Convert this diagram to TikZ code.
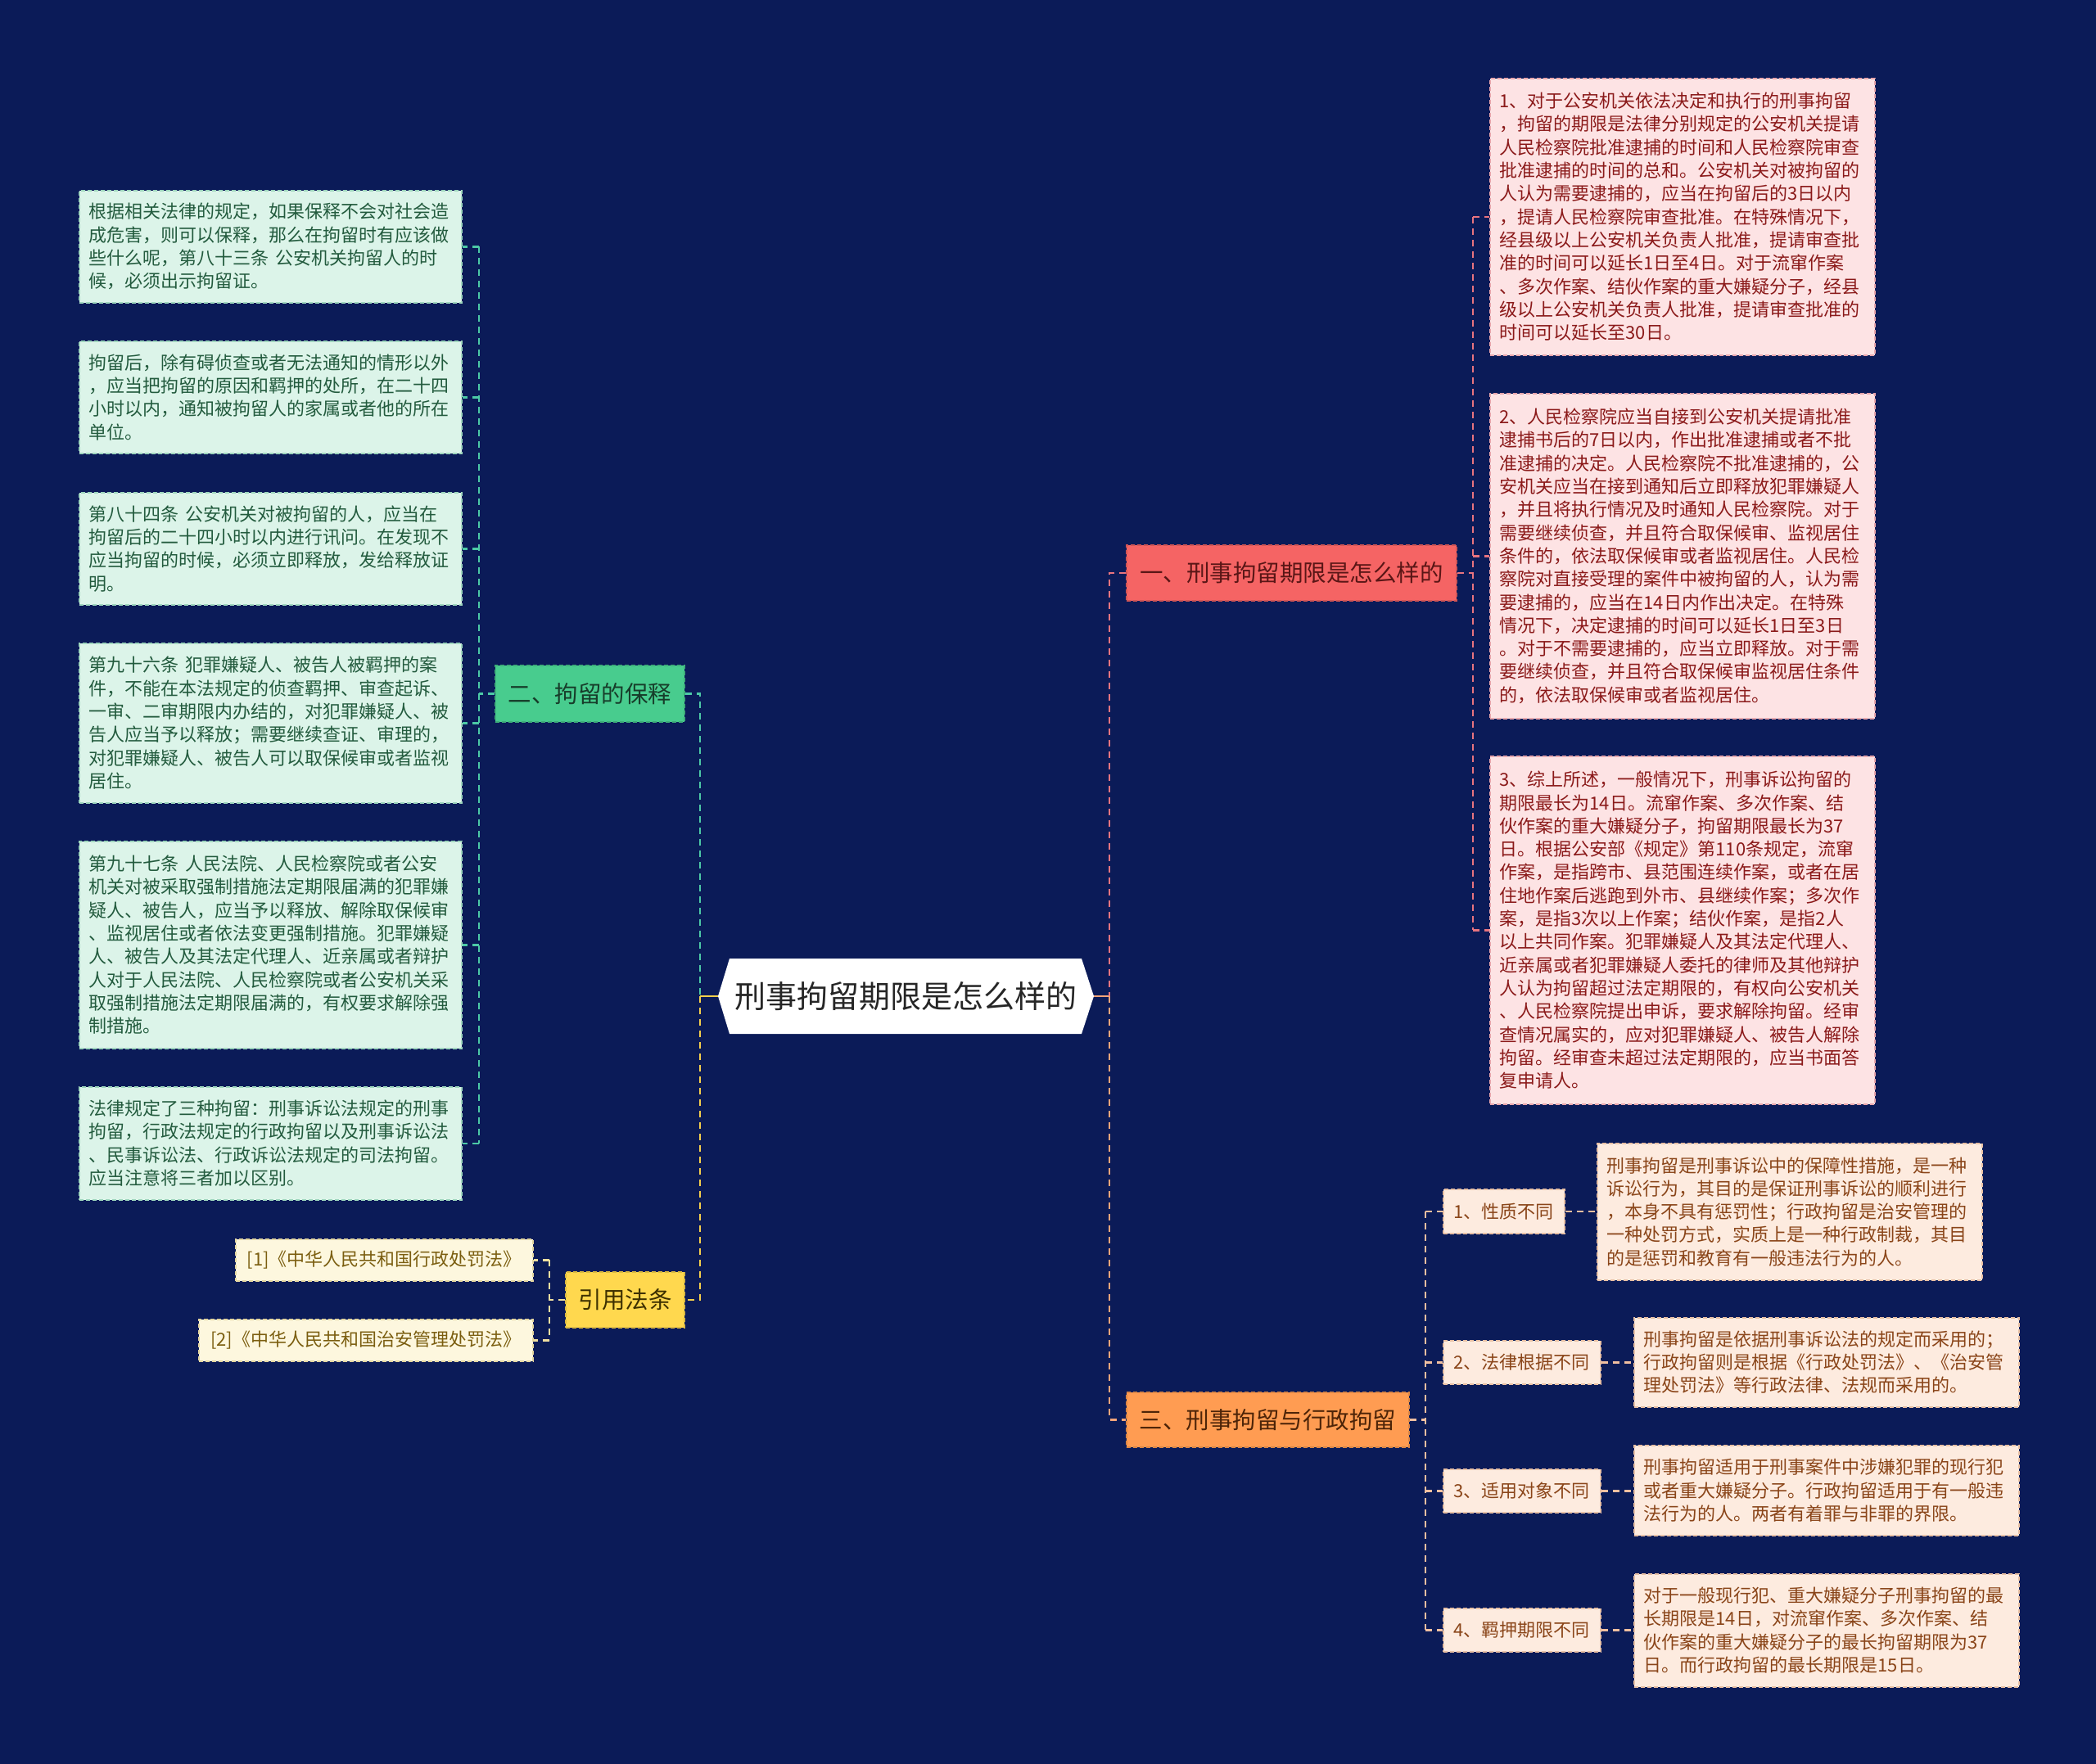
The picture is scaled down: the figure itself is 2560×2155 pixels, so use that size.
\documentclass[tikz,border=0pt]{standalone}
\usepackage{fontspec}
\setmainfont{Noto Sans CJK SC}
\usetikzlibrary{calc}
\definecolor{bgc}{HTML}{0B1B58}
\definecolor{redfill}{HTML}{F56464}
\definecolor{redtext}{HTML}{5A1616}
\definecolor{greenfill}{HTML}{48CC8E}
\definecolor{greentext}{HTML}{173D2A}
\definecolor{yelfill}{HTML}{FFD84E}
\definecolor{yeltext}{HTML}{3D3000}
\definecolor{orafill}{HTML}{FF9C52}
\definecolor{oratext}{HTML}{4D2408}
\definecolor{mint}{HTML}{DCF4E9}
\definecolor{minttext}{HTML}{235B3E}
\definecolor{mintdraw}{HTML}{9ED6BD}
\definecolor{pinkf}{HTML}{FDE3E4}
\definecolor{pinktext}{HTML}{8B1A1A}
\definecolor{pinkdraw}{HTML}{E8A6AC}
\definecolor{peach}{HTML}{FDEBDF}
\definecolor{peachtext}{HTML}{8A4519}
\definecolor{peachdraw}{HTML}{E8C0A4}
\definecolor{cream}{HTML}{FDF7DE}
\definecolor{creamtext}{HTML}{7B5E10}
\definecolor{creamdraw}{HTML}{E3D6A0}
\definecolor{lteal}{HTML}{4CC9A6}
\definecolor{lyel}{HTML}{F4D04C}
\definecolor{lred}{HTML}{E8747F}
\definecolor{lora}{HTML}{F3A57A}
\definecolor{lpeach}{HTML}{F0BFA0}
\definecolor{lcream}{HTML}{EFDFA0}
\definecolor{roottext}{HTML}{262626}
\tikzset{
  conn/.style={line width=2.5pt, dash pattern=on 8pt off 6pt},
  leafbox/.style={rectangle, anchor=north west, inner xsep=12pt, inner ysep=3pt,
    align=left, line width=1.5pt, dash pattern=on 5pt off 3pt,
    font=\fontsize{22}{28.3}\selectfont},
  gleaf/.style={leafbox, fill=mint, draw=mintdraw, text=minttext, text width=443pt, minimum width=467pt},
  pleaf/.style={leafbox, fill=pinkf, draw=pinkdraw, text=pinktext, text width=446pt, minimum width=470pt},
  oleaf/.style={leafbox, fill=peach, draw=peachdraw, text=peachtext, text width=446pt, minimum width=470pt},
  smallbox/.style={rectangle, anchor=north west, inner sep=0pt, line width=1.5pt,
    dash pattern=on 5pt off 3pt, font=\fontsize{22}{26}\selectfont,
    fill=peach, draw=peachdraw, text=peachtext},
  citebox/.style={rectangle, anchor=north west, inner sep=0pt, line width=1.5pt,
    dash pattern=on 5pt off 3pt, font=\fontsize{22}{26}\selectfont,
    fill=cream, draw=creamdraw, text=creamtext},
  mainnode/.style={rectangle, inner sep=0pt, line width=1.5pt,
    dash pattern=on 5pt off 3pt, font=\fontsize{28.5}{34}\selectfont}
}
\begin{document}
\begin{tikzpicture}[x=1pt,y=-1pt]
\useasboundingbox (0,0) rectangle (2560,2155);
\fill[bgc] (0,0) rectangle (2560,2155);

% root hexagon
\fill[white] (891,1171) -- (1321,1171) -- (1336,1217) -- (1321,1263) -- (891,1263) -- (877,1217) -- cycle;
\node[font=\fontsize{38}{44}\selectfont, text=roottext, minimum width=459pt, minimum height=92pt, inner sep=0pt] (root) at (1106.5,1217) {刑事拘留期限是怎么样的};

% main branches
\node[mainnode, fill=redfill, draw=redfill!85!black, text=redtext, minimum width=403pt, minimum height=68pt] (n1) at (1577.5,700) {一、刑事拘留期限是怎么样的};
\node[mainnode, fill=greenfill, draw=greenfill!85!black, text=greentext, minimum width=231pt, minimum height=69pt] (n2) at (720.5,847.5) {二、拘留的保释};
\node[mainnode, fill=yelfill, draw=yelfill!85!black, text=yeltext, minimum width=145pt, minimum height=68pt] (n4) at (763.5,1588) {引用法条};
\node[mainnode, fill=orafill, draw=orafill!85!black, text=oratext, minimum width=345pt, minimum height=67pt] (n3) at (1548.5,1734.5) {三、刑事拘留与行政拘留};

% left leaves
\node[gleaf, minimum height=137pt] (g1) at (96,232) {根据相关法律的规定，如果保释不会对社会造\\成危害，则可以保释，那么在拘留时有应该做\\些什么呢，第八十三条 公安机关拘留人的时\\候，必须出示拘留证。};
\node[gleaf, minimum height=137pt] (g2) at (96,416) {拘留后，除有碍侦查或者无法通知的情形以外\\，应当把拘留的原因和羁押的处所，在二十四\\小时以内，通知被拘留人的家属或者他的所在\\单位。};
\node[gleaf, minimum height=137pt] (g3) at (96,601) {第八十四条 公安机关对被拘留的人，应当在\\拘留后的二十四小时以内进行讯问。在发现不\\应当拘留的时候，必须立即释放，发给释放证\\明。};
\node[gleaf, minimum height=195pt] (g4) at (96,785) {第九十六条 犯罪嫌疑人、被告人被羁押的案\\件，不能在本法规定的侦查羁押、审查起诉、\\一审、二审期限内办结的，对犯罪嫌疑人、被\\告人应当予以释放；需要继续查证、审理的，\\对犯罪嫌疑人、被告人可以取保候审或者监视\\居住。};
\node[gleaf, minimum height=253pt] (g5) at (96,1027) {第九十七条 人民法院、人民检察院或者公安\\机关对被采取强制措施法定期限届满的犯罪嫌\\疑人、被告人，应当予以释放、解除取保候审\\、监视居住或者依法变更强制措施。犯罪嫌疑\\人、被告人及其法定代理人、近亲属或者辩护\\人对于人民法院、人民检察院或者公安机关采\\取强制措施法定期限届满的，有权要求解除强\\制措施。};
\node[gleaf, minimum height=138pt] (g6) at (96,1327) {法律规定了三种拘留：刑事诉讼法规定的刑事\\拘留，行政法规定的行政拘留以及刑事诉讼法\\、民事诉讼法、行政诉讼法规定的司法拘留。\\应当注意将三者加以区别。};

% citations
\node[citebox, minimum width=363pt, minimum height=51pt] (c1) at (287,1513) {[1]《中华人民共和国行政处罚法》};
\node[citebox, minimum width=408pt, minimum height=51pt] (c2) at (242,1611) {[2]《中华人民共和国治安管理处罚法》};

% right pink leaves
\node[pleaf, minimum height=338pt] (r1) at (1819,95) {1、对于公安机关依法决定和执行的刑事拘留\\，拘留的期限是法律分别规定的公安机关提请\\人民检察院批准逮捕的时间和人民检察院审查\\批准逮捕的时间的总和。公安机关对被拘留的\\人认为需要逮捕的，应当在拘留后的3日以内\\，提请人民检察院审查批准。在特殊情况下，\\经县级以上公安机关负责人批准，提请审查批\\准的时间可以延长1日至4日。对于流窜作案\\、多次作案、结伙作案的重大嫌疑分子，经县\\级以上公安机关负责人批准，提请审查批准的\\时间可以延长至30日。};
\node[pleaf, minimum height=397pt] (r2) at (1819,480) {2、人民检察院应当自接到公安机关提请批准\\逮捕书后的7日以内，作出批准逮捕或者不批\\准逮捕的决定。人民检察院不批准逮捕的，公\\安机关应当在接到通知后立即释放犯罪嫌疑人\\，并且将执行情况及时通知人民检察院。对于\\需要继续侦查，并且符合取保候审、监视居住\\条件的，依法取保候审或者监视居住。人民检\\察院对直接受理的案件中被拘留的人，认为需\\要逮捕的，应当在14日内作出决定。在特殊\\情况下，决定逮捕的时间可以延长1日至3日\\。对于不需要逮捕的，应当立即释放。对于需\\要继续侦查，并且符合取保候审监视居住条件\\的，依法取保候审或者监视居住。};
\node[pleaf, minimum height=425pt] (r3) at (1819,923) {3、综上所述，一般情况下，刑事诉讼拘留的\\期限最长为14日。流窜作案、多次作案、结\\伙作案的重大嫌疑分子，拘留期限最长为37\\日。根据公安部《规定》第110条规定，流窜\\作案，是指跨市、县范围连续作案，或者在居\\住地作案后逃跑到外市、县继续作案；多次作\\案，是指3次以上作案；结伙作案，是指2人\\以上共同作案。犯罪嫌疑人及其法定代理人、\\近亲属或者犯罪嫌疑人委托的律师及其他辩护\\人认为拘留超过法定期限的，有权向公安机关\\、人民检察院提出申诉，要求解除拘留。经审\\查情况属实的，应对犯罪嫌疑人、被告人解除\\拘留。经审查未超过法定期限的，应当书面答\\复申请人。};

% small boxes
\node[smallbox, minimum width=148pt, minimum height=54pt] (s1) at (1762,1452) {1、性质不同};
\node[smallbox, minimum width=192pt, minimum height=53pt] (s2) at (1762,1637) {2、法律根据不同};
\node[smallbox, minimum width=192pt, minimum height=53pt] (s3) at (1762,1794) {3、适用对象不同};
\node[smallbox, minimum width=192pt, minimum height=53pt] (s4) at (1762,1964) {4、羁押期限不同};

% peach leaves
\node[oleaf, minimum height=167pt] (o1) at (1950,1396) {刑事拘留是刑事诉讼中的保障性措施，是一种\\诉讼行为，其目的是保证刑事诉讼的顺利进行\\，本身不具有惩罚性；行政拘留是治安管理的\\一种处罚方式，实质上是一种行政制裁，其目\\的是惩罚和教育有一般违法行为的人。};
\node[oleaf, minimum height=109pt] (o2) at (1995,1609) {刑事拘留是依据刑事诉讼法的规定而采用的；\\行政拘留则是根据《行政处罚法》、《治安管\\理处罚法》等行政法律、法规而采用的。};
\node[oleaf, minimum height=110pt] (o3) at (1995,1765) {刑事拘留适用于刑事案件中涉嫌犯罪的现行犯\\或者重大嫌疑分子。行政拘留适用于有一般违\\法行为的人。两者有着罪与非罪的界限。};
\node[oleaf, minimum height=138pt] (o4) at (1995,1922) {对于一般现行犯、重大嫌疑分子刑事拘留的最\\长期限是14日，对流窜作案、多次作案、结\\伙作案的重大嫌疑分子的最长拘留期限为37\\日。而行政拘留的最长期限是15日。};

% bus coordinates
\coordinate (busL) at (585,0);
\coordinate (busCite) at (671,0);
\coordinate (busC) at (855,0);
\coordinate (busR) at (1355,0);
\coordinate (busRed) at (1799,0);
\coordinate (busOra) at (1741,0);

% root connectors
\draw[line width=2.5pt, lyel] (root.west) -- (busC |- root.west);
\draw[line width=2.5pt, lora] (root.east) -- (busR |- root.east);
\draw[conn, lteal] (n2.east) -- (busC |- n2.east) -- (busC |- root.west);
\draw[conn, lyel] (busC |- root.west) -- (busC |- n4.east) -- (n4.east);
\draw[conn, lred] (n1.west) -- (busR |- n1.west) -- (busR |- root.east);
\draw[conn, lora] (busR |- root.east) -- (busR |- n3.west) -- (n3.west);

% green group
\draw[conn, lteal] (busL |- g1.east) -- (busL |- g6.east);
\draw[conn, lteal] (n2.west) -- (busL |- n2.west);
\foreach \n in {g1,g2,g3,g4,g5,g6} \draw[conn, lteal] (busL |- \n.east) -- (\n.east);

% citation group
\draw[conn, lcream] (busCite |- c1.east) -- (busCite |- c2.east);
\draw[conn, lcream] (n4.west) -- (busCite |- n4.west);
\foreach \n in {c1,c2} \draw[conn, lcream] (busCite |- \n.east) -- (\n.east);

% red group
\draw[conn, lred] (busRed |- r1.west) -- (busRed |- r3.west);
\draw[conn, lred] (n1.east) -- (busRed |- n1.east);
\foreach \n in {r1,r2,r3} \draw[conn, lred] (busRed |- \n.west) -- (\n.west);

% orange group
\draw[conn, lpeach] (busOra |- s1.west) -- (busOra |- s4.west);
\draw[conn, lpeach] (n3.east) -- (busOra |- n3.east);
\foreach \n in {s1,s2,s3,s4} \draw[conn, lpeach] (busOra |- \n.west) -- (\n.west);
\draw[conn, lpeach] (s1.east) -- (o1.west |- s1.east);
\draw[conn, lpeach] (s2.east) -- (o2.west |- s2.east);
\draw[conn, lpeach] (s3.east) -- (o3.west |- s3.east);
\draw[conn, lpeach] (s4.east) -- (o4.west |- s4.east);
\end{tikzpicture}
\end{document}
